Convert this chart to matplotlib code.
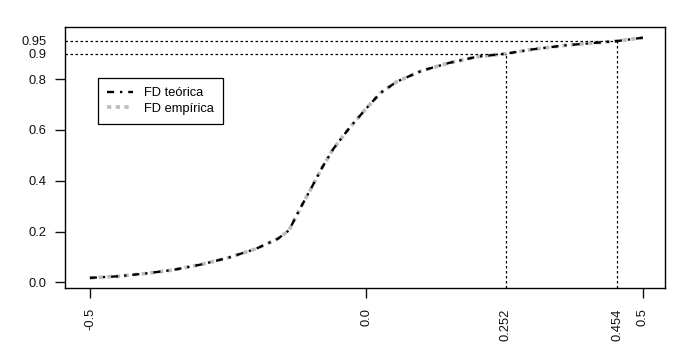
import numpy as np
import matplotlib.pyplot as plt

plt.rcParams['font.family'] = ['Liberation Sans', 'DejaVu Sans']

# valores
x_vals = [-0.50, -0.45, -0.40, -0.35, -0.30, -0.25, -0.20, -0.16, -0.14, -0.12,
          -0.10, -0.08, -0.06, -0.03, 0.00, 0.025, 0.055, 0.10, 0.15, 0.20,
          0.252, 0.30, 0.36, 0.454, 0.50]
fd_teorica = [0.018, 0.024, 0.035, 0.049, 0.070, 0.097, 0.132, 0.172, 0.205, 0.290,
              0.370, 0.452, 0.525, 0.610, 0.685, 0.745, 0.790, 0.833, 0.864, 0.888,
              0.900, 0.917, 0.933, 0.950, 0.963]
fd_empirica = [0.018, 0.024, 0.035, 0.049, 0.070, 0.097, 0.132, 0.172, 0.205, 0.290,
               0.370, 0.452, 0.525, 0.610, 0.685, 0.745, 0.790, 0.833, 0.864, 0.888,
               0.900, 0.917, 0.933, 0.950, 0.963]
cuantiles = [0.252, 0.454]
probs = [0.90, 0.95]
xticks_main = [-0.5, 0.0, 0.5]
xtick_labels_main = ['-0.5', '0.0', '0.5']
yticks_main = [0.0, 0.2, 0.4, 0.6, 0.8]
ytick_labels_main = ['0.0', '0.2', '0.4', '0.6', '0.8']

fig = plt.figure(figsize=(6.93, 3.5), dpi=100)
ax = fig.add_axes([0.0938, 0.1771, 0.8658, 0.7457])
xlo, xhi = -0.545, 0.540
ylo, yhi = -0.022, 1.005

l_emp, = ax.plot(x_vals, fd_empirica, color='#bdbdbd', lw=2.6, dashes=(1.2, 1.2))
l_teo, = ax.plot(x_vals, fd_teorica, color='black', lw=1.7, dashes=(3, 2.5, 1, 2.5))

for q, p in zip(cuantiles, probs):
    ax.plot([q, q], [ylo, p], color='black', lw=0.9, dashes=(2, 2))
    ax.plot([xlo, q], [p, p], color='black', lw=0.9, dashes=(2, 2))

ax.set_xlim(xlo, xhi)
ax.set_ylim(ylo, yhi)

fs = 9.3
ax.set_xticks(xticks_main, labels=xtick_labels_main, rotation=90)
ax.set_xticks(cuantiles, labels=[str(q) for q in cuantiles], minor=True, rotation=90)
ax.set_yticks(yticks_main, labels=ytick_labels_main)
ax.set_yticks(probs, labels=['0.9', '0.95'], minor=True)
ax.tick_params(axis='x', which='major', length=7, width=1, pad=7.5, labelsize=fs, colors='#111111')
ax.tick_params(axis='x', which='minor', length=0, pad=14.5, labelsize=fs, colors='#111111')
ax.tick_params(axis='y', which='major', length=7, width=1, pad=6.5, labelsize=fs, colors='#111111')
ax.tick_params(axis='y', which='minor', length=0, pad=13.5, labelsize=fs, colors='#111111')
for s in ax.spines.values():
    s.set_linewidth(1)

leg = ax.legend([l_teo, l_emp], ['FD teórica', 'FD empírica'],
                loc='upper left', bbox_to_anchor=(0.1414, 0.777),
                bbox_transform=fig.transFigure, borderaxespad=0,
                fontsize=fs, handlelength=2.0, fancybox=False,
                framealpha=1, edgecolor='black', labelspacing=0.28,
                borderpad=0.7, handletextpad=0.9)
leg.get_frame().set_linewidth(0.9)

fig.savefig('out.png', dpi=100)
